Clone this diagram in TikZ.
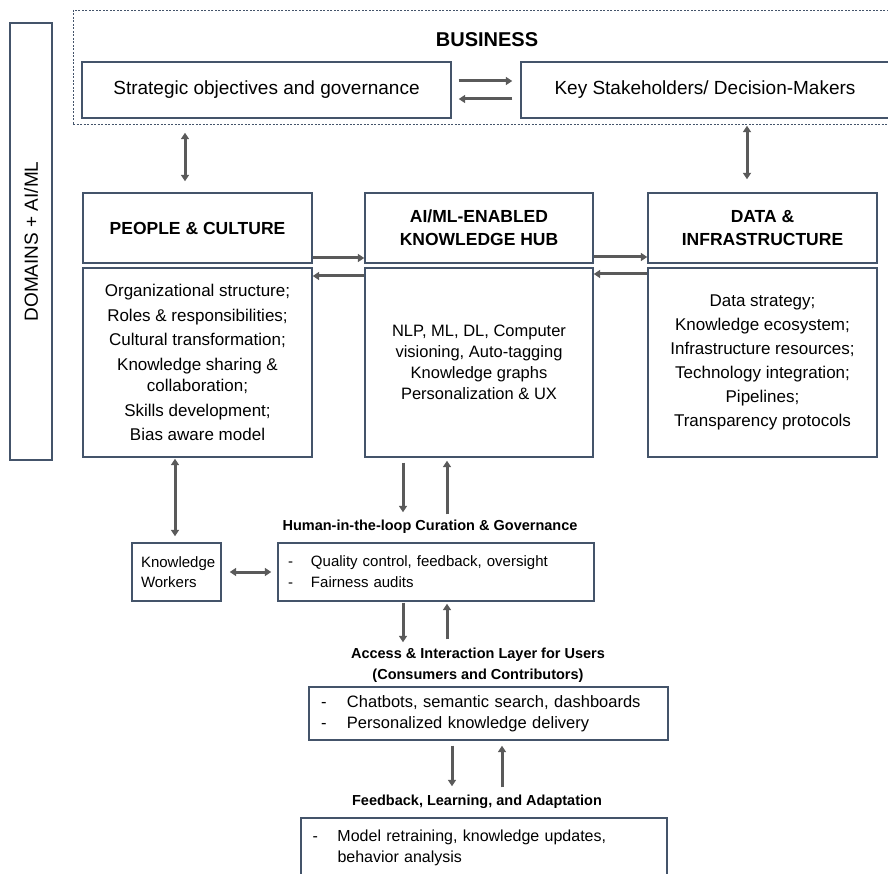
\documentclass[tikz,border=0pt]{standalone}
\usepackage{fontspec}
\setmainfont{Liberation Sans}
\usetikzlibrary{arrows.meta,calc}
\definecolor{boxc}{HTML}{44546A}
\definecolor{arrc}{HTML}{5A5A5A}
\begin{document}
\begin{tikzpicture}[x=1pt,y=-1pt,
  box/.style={draw=boxc, line width=1.4pt, rectangle, inner sep=0pt, align=center},
  dashbox/.style={draw=boxc, line width=0.9pt, dash pattern=on 2pt off 1.5pt, rectangle, inner sep=0pt},
  hdr/.style={box, font=\bfseries\fontsize{17.5}{23}\selectfont},
  body/.style={box, font=\fontsize{17}{24.5}\selectfont},
  ttl/.style={font=\bfseries\fontsize{14.5}{21}\selectfont, align=center, inner sep=0pt},
  tip/.tip={Triangle[length=6.5pt,width=8pt]},
  arr/.style={draw=arrc, line width=3pt, -tip},
  darr/.style={draw=arrc, line width=3pt, tip-tip},
]
\useasboundingbox (0,0) rectangle (888,874);
\clip (0,0) rectangle (888,874);

% left domain bar
\node[box, rotate=90, minimum width=437, minimum height=42,
      font=\fontsize{19}{22}\selectfont] (dom) at (31,241.5) {DOMAINS + AI/ML};

% business block
\node[dashbox, minimum width=825, minimum height=114] (bus) at (485.5,67) {};
\node[font=\bfseries\fontsize{20}{24}\selectfont, inner sep=0pt] (bustitle) at (487,40) {BUSINESS};
\node[box, minimum width=369, minimum height=56, font=\fontsize{19}{23}\selectfont] (strat) at (266.5,90) {Strategic objectives and governance};
\node[box, minimum width=368, minimum height=56, font=\fontsize{19}{23}\selectfont] (keys) at (705,90) {Key Stakeholders/ Decision-Makers};

% three pillars
\node[hdr, minimum width=229, minimum height=70] (pplH) at (197.5,228) {PEOPLE \& CULTURE};
\node[body, minimum width=229, minimum height=189] (pplB) at (197.5,362.5)
  {Organizational structure;\\Roles \& responsibilities;\\Cultural transformation;\\Knowledge sharing \&\\[-3pt]collaboration;\\Skills development;\\Bias aware model};

\node[hdr, minimum width=228, minimum height=70] (hubH) at (479,228) {AI/ML-ENABLED\\KNOWLEDGE HUB};
\node[box, minimum width=228, minimum height=189, font=\fontsize{16.5}{21}\selectfont] (hubB) at (479,362.5)
  {NLP, ML, DL, Computer\\visioning, Auto-tagging\\Knowledge graphs\\Personalization \& UX};

\node[hdr, minimum width=229, minimum height=70] (datH) at (762.5,228) {DATA \&\\INFRASTRUCTURE};
\node[box, minimum width=229, minimum height=189, font=\fontsize{17}{24}\selectfont] (datB) at (762.5,362.5)
  {Data strategy;\\Knowledge ecosystem;\\Infrastructure resources;\\Technology integration;\\Pipelines;\\Transparency protocols};

% lower chain
\node[box, minimum width=89, minimum height=58, text width=71, align=left,
      font=\fontsize{15}{20}\selectfont] (kw) at (176.5,572) {Knowledge\\Workers};
\node[ttl] (curT) at (430,527) {Human-in-the-loop Curation \& Governance};
\node[box, minimum width=316, minimum height=58, text width=296, align=left,
      font=\fontsize{15}{21}\selectfont] (cur) at (436,572)
  {\makebox[23pt][l]{-}Quality control, feedback, oversight\\\makebox[23pt][l]{-}Fairness audits};

\node[ttl] (accT) at (478,665.5) {Access \& Interaction Layer for Users\\(Consumers and Contributors)};
\node[box, minimum width=359, minimum height=53, text width=335, align=left,
      font=\fontsize{16.5}{21}\selectfont] (acc) at (488.5,713.5)
  {\makebox[26pt][l]{-}Chatbots, semantic search, dashboards\\\makebox[26pt][l]{-}Personalized knowledge delivery};

\node[ttl] (fbT) at (477,802) {Feedback, Learning, and Adaptation};
\node[box, minimum width=366, minimum height=100] (fb) at (484,868) {};
\node[anchor=north west, inner sep=0pt, align=left, text width=340,
      font=\fontsize{16}{21}\selectfont] (fbtxt) at ([xshift=12pt,yshift=-12.5pt]fb.north west)
  {\makebox[25pt][l]{-}Model retraining, knowledge updates,\\\hspace*{25pt}behavior analysis};

% connectors: business
\draw[arr] ([xshift=7pt,yshift=9pt]strat.east) -- ([xshift=-8pt,yshift=9pt]keys.west);
\draw[arr] ([xshift=-8pt,yshift=-9pt]keys.west) -- ([xshift=7pt,yshift=-9pt]strat.east);
\draw[darr] ([xshift=-81.5pt,yshift=-14pt]strat.south) -- ([xshift=-12.5pt,yshift=11pt]pplH.north);
\draw[darr] ([xshift=42pt,yshift=-7pt]keys.south) -- ([xshift=-15.5pt,yshift=13pt]datH.north);

% connectors between pillars
\draw[arr] ([yshift=-30pt]pplH.east) -- ([yshift=-30pt]hubH.west);
\draw[arr] ([yshift=86.5pt]hubB.west) -- ([yshift=86.5pt]pplB.east);
\draw[arr] ([yshift=-29pt]hubH.east) -- ([yshift=-29pt]datH.west);
\draw[arr] ([yshift=88.5pt]datB.west) -- ([yshift=88.5pt]hubB.east);

% lower connectors
\draw[darr] ([xshift=-22.5pt,yshift=-1pt]pplB.south) -- ([xshift=-1.5pt,yshift=6pt]kw.north);
\draw[arr] ([xshift=-76pt,yshift=-5pt]hubB.south) -- ([xshift=-33pt,yshift=30pt]cur.north);
\draw[arr] ([xshift=11pt,yshift=28pt]cur.north) -- ([xshift=-32pt,yshift=-3pt]hubB.south);
\draw[darr] ([xshift=8pt]kw.east) -- ([xshift=-6pt]cur.west);
\draw[arr] ([xshift=-33pt,yshift=-1pt]cur.south) -- ([xshift=-85.5pt,yshift=44pt]acc.north);
\draw[arr] ([xshift=-41.5pt,yshift=47pt]acc.north) -- ([xshift=11pt,yshift=-2pt]cur.south);
\draw[arr] ([xshift=-36.5pt,yshift=-5pt]acc.south) -- ([xshift=-32pt,yshift=31pt]fb.north);
\draw[arr] ([xshift=18pt,yshift=30pt]fb.north) -- ([xshift=13.5pt,yshift=-5pt]acc.south);
\end{tikzpicture}
\end{document}
